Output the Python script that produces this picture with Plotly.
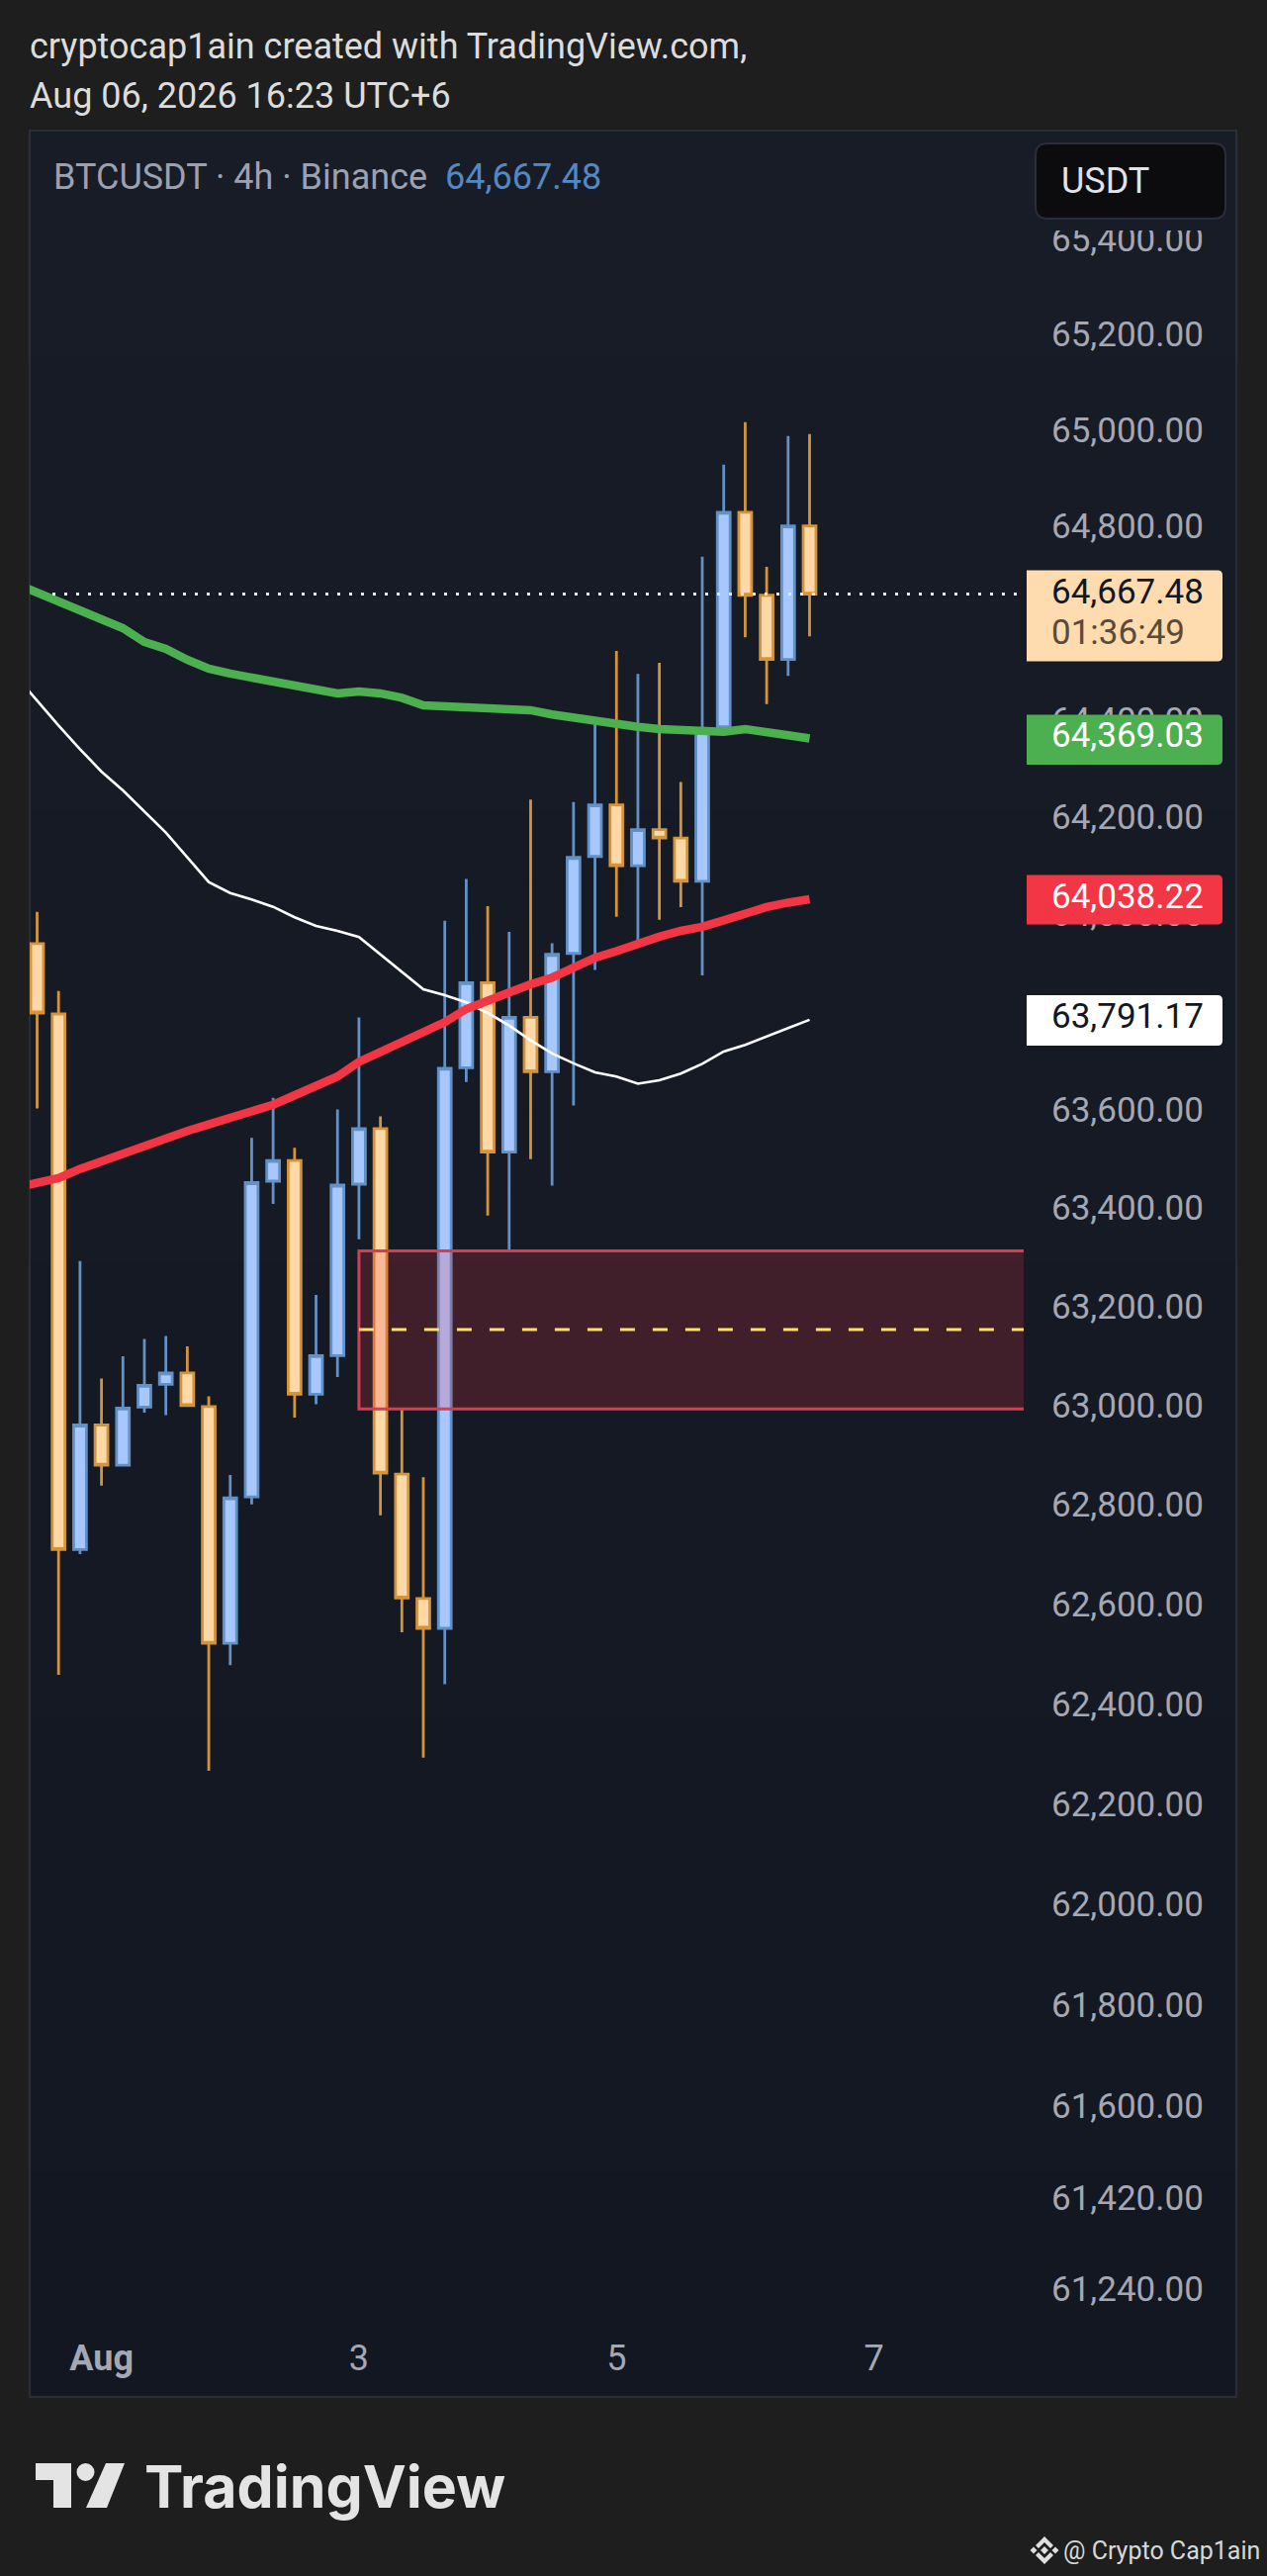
import pandas as pd
import plotly.graph_objects as go

W, H = 1281, 2604

# ---- data ----
first_bar = "2026-07-31 14:00"
opens = [63947, 63803, 62717, 62968, 62887, 63004, 63050, 63073, 63005, 62529, 62823, 63462, 63504,
         63030, 63108, 63456, 63569, 62869, 62619, 62559, 63693, 63867, 63521, 63796, 63685, 63927,
         64126, 64232, 64107, 64181, 64164, 64075, 64393, 64837, 64665, 64532, 64809]
closes = [63805, 62717, 62968, 62887, 63002, 63048, 63073, 63007, 62529, 62821, 63459, 63504, 63030,
          63108, 63454, 63569, 62871, 62620, 62559, 63692, 63867, 63521, 63796, 63685, 63925, 64124,
          64232, 64107, 64181, 64164, 64075, 64388, 64837, 64665, 64532, 64809, 64667.48]
highs = [64012, 63850, 63300, 63062, 63107, 63142, 63148, 63127, 63026, 62867, 63550, 63632, 63530,
         63231, 63608, 63796, 63594, 62999, 62863, 63994, 64080, 64024, 63971, 64243, 63948, 64238,
         64411, 64550, 64502, 64525, 64279, 64745, 64936, 65025, 64724, 64996, 65000]
lows = [63610, 62466, 62708, 62846, 62885, 62993, 62988, 63007, 62274, 62485, 62808, 63416, 62983,
        63010, 63065, 63344, 62786, 62551, 62300, 62447, 63664, 63392, 63322, 63507, 63453, 63616,
        63893, 64002, 63948, 63996, 64022, 63882, 64390, 64578, 64440, 64498, 64580]
ma_white = [64498.8, 64447.0, 64395.9, 64346.9, 64300.7, 64261.9, 64219.2, 64175.0, 64124.2, 64073.2,
            64050.9, 64037.5, 64022.5, 64001.0, 63983.4, 63973.2, 63960.5, 63924.6, 63888.8, 63853.7,
            63841.6, 63826.8, 63805.1, 63779.4, 63749.1, 63722.3, 63702.1, 63683.9, 63675.2, 63660.7,
            63667.8, 63681.3, 63701.3, 63726.3, 63739.8, 63756.2, 63774.1, 63791.17]
ma_red = [63448.7, 63460.1, 63468.2, 63486.9, 63502.4, 63520.6, 63537.2, 63550.7, 63564.2, 63577.5,
          63590.9, 63603.1, 63617.8, 63636.8, 63654.9, 63675.2, 63705.3, 63725.7, 63745.8, 63764.6,
          63786.3, 63813.2, 63830.0, 63850.3, 63863.9, 63877.5, 63898.1, 63917.9, 63931.5, 63947.7,
          63961.3, 63973.2, 63981.4, 63994.8, 64009.4, 64022.0, 64031.1, 64038.22]
ma_green = [64689.2, 64670.8, 64651.3, 64631.8, 64615.4, 64596.9, 64568.3, 64553.9, 64531.5, 64513.1,
            64502.9, 64494.7, 64482.4, 64474.3, 64466.1, 64462.0, 64466.1, 64462.0, 64452.8, 64437.4,
            64435.4, 64433.3, 64431.3, 64429.3, 64427.2, 64418.4, 64411.0, 64403.7, 64397.3, 64392.8,
            64388.3, 64385.5, 64382.8, 64382.8, 64388.3, 64383.6, 64375.5, 64369.03]
price_ticks = [65400, 65200, 65000, 64800, 64400, 64200, 64000, 63600, 63400, 63200,
               63000, 62800, 62600, 62400, 62200, 62000, 61800, 61600, 61420, 61240]
date_ticks = ["2026-08-01 02:00", "2026-08-03 02:00", "2026-08-05 02:00", "2026-08-07 02:00"]
date_labels = ["<b>Aug</b>", "3", "5", "7"]
zone_start = "2026-08-03 02:00"
zone_end = "2026-08-09 12:00"
zone_top, zone_mid, zone_bottom = 63320.4, 63161.0, 63000.4
countdown = "01:36:49"

bars = pd.date_range(first_bar, periods=len(opens), freq="4h")
ma_x = pd.date_range(pd.Timestamp(first_bar) - pd.Timedelta(hours=4), periods=len(ma_white), freq="4h")

FONT = "Roboto"
AXIS = "#a4a8b5"
FS = 35
HS = 36
px_x = lambda v: v / W
px_y = lambda v: 1 - v / H


def poly(points, close=True):
    s = "M " + " L ".join(f"{px_x(x)},{px_y(y)}" for x, y in points)
    return s + (" Z" if close else "")


def rrect(x0, y0, x1, y1, r_left, r_right):
    parts = [f"M {px_x(x0 + r_left)},{px_y(y0)}", f"L {px_x(x1 - r_right)},{px_y(y0)}",
             f"Q {px_x(x1)},{px_y(y0)} {px_x(x1)},{px_y(y0 + r_right)}",
             f"L {px_x(x1)},{px_y(y1 - r_right)}", f"Q {px_x(x1)},{px_y(y1)} {px_x(x1 - r_right)},{px_y(y1)}",
             f"L {px_x(x0 + r_left)},{px_y(y1)}", f"Q {px_x(x0)},{px_y(y1)} {px_x(x0)},{px_y(y1 - r_left)}",
             f"L {px_x(x0)},{px_y(y0 + r_left)}", f"Q {px_x(x0)},{px_y(y0)} {px_x(x0 + r_left)},{px_y(y0)}", "Z"]
    return " ".join(parts)


fig = go.Figure()
fig.add_trace(go.Candlestick(
    x=bars, open=opens, high=highs, low=lows, close=closes, whiskerwidth=0, hoverinfo="skip",
    increasing=dict(fillcolor="#a6c8ff", line=dict(color="#6391c6", width=2.8)),
    decreasing=dict(fillcolor="#ffd8a8", line=dict(color="#d3943a", width=2.8)),
))
fig.add_trace(go.Scatter(x=ma_x, y=ma_white, mode="lines", line=dict(color="#ffffff", width=2.6), hoverinfo="skip"))
fig.add_trace(go.Scatter(x=ma_x, y=ma_red, mode="lines", line=dict(color="#f23645", width=8.5), hoverinfo="skip"))
fig.add_trace(go.Scatter(x=ma_x, y=ma_green, mode="lines", line=dict(color="#4caf50", width=8.5), hoverinfo="skip"))

shapes = []
# frame with a faint vertical gradient
n_bands = 30
c0, c1 = (24, 28, 39), (19, 23, 34)
for i in range(n_bands):
    t = i / (n_bands - 1)
    col = "rgb(%d,%d,%d)" % tuple(round(a + (b - a) * t) for a, b in zip(c0, c1))
    shapes.append(dict(type="rect", xref="paper", yref="paper", layer="below", line_width=0, fillcolor=col,
                       x0=px_x(30), x1=px_x(1250),
                       y0=px_y(132 + 2291 * i / n_bands), y1=px_y(132 + 2291 * (i + 1) / n_bands + 1)))
shapes.append(dict(type="rect", xref="paper", yref="paper", layer="below", fillcolor="rgba(0,0,0,0)",
                   line=dict(color="#2a2e39", width=2), x0=px_x(30), x1=px_x(1250), y0=px_y(132), y1=px_y(2423)))
# zone
shapes.append(dict(type="rect", xref="x", yref="y", x0=zone_start, x1=zone_end, y0=zone_bottom, y1=zone_top,
                   fillcolor="rgba(242,54,69,0.2)", line=dict(color="#d83c50", width=3)))
shapes.append(dict(type="line", xref="x", yref="y", x0=zone_start, x1=zone_end, y0=zone_mid, y1=zone_mid,
                   line=dict(color="#ffe066", width=3, dash="15px,18px")))
# last-price line
shapes.append(dict(type="line", xref="paper", yref="y", x0=px_x(53), x1=px_x(1033), y0=closes[-1], y1=closes[-1],
                   line=dict(color="#e8e8e8", width=3, dash="3px,9px")))
# cover for the top of the price scale and the currency button
shapes.append(dict(type="rect", xref="paper", yref="paper", line_width=0, fillcolor="rgb(24,28,39)",
                   x0=px_x(1036), x1=px_x(1249), y0=px_y(133), y1=px_y(233)))
shapes.append(dict(type="path", xref="paper", yref="paper", path=rrect(1047, 145, 1239, 221, 12, 12),
                   fillcolor="#0c0c0e", line=dict(color="#2a2e39", width=2)))
# price tags
tags = [(576.5, 668.5, "#ffdbb0"), (722.5, 773, "#4caf50"), (884.5, 934.5, "#f23645"), (1006, 1057, "#ffffff")]
for y0, y1, col in tags:
    shapes.append(dict(type="path", xref="paper", yref="paper", path=rrect(1038, y0, 1236, y1, 0, 5),
                       fillcolor=col, line_width=0))
# TradingView mark
LOGO = "#e4e4e4"
shapes.append(dict(type="path", xref="paper", yref="paper", fillcolor=LOGO, line_width=0,
                   path=poly([(36, 2490), (72, 2490), (72, 2535), (54, 2535), (54, 2507), (36, 2507)])))
shapes.append(dict(type="path", xref="paper", yref="paper", fillcolor=LOGO, line_width=0,
                   path=poly([(107, 2490), (126, 2490), (108, 2535), (87, 2535)])))
shapes.append(dict(type="circle", xref="paper", yref="paper", fillcolor=LOGO, line_width=0,
                   x0=px_x(77.5), x1=px_x(95.5), y0=px_y(2490), y1=px_y(2508)))
# small diamond mark by the signature
MARK = "#e0e0e0"
for pts in ([(1056, 2564), (1065, 2573), (1062, 2576), (1056, 2570), (1050, 2576), (1047, 2573)],
            [(1056, 2592), (1065, 2583), (1062, 2580), (1056, 2586), (1050, 2580), (1047, 2583)],
            [(1045, 2574.5), (1048.5, 2578), (1045, 2581.5), (1041.5, 2578)],
            [(1067, 2574.5), (1070.5, 2578), (1067, 2581.5), (1063.5, 2578)],
            [(1056, 2574), (1060, 2578), (1056, 2582), (1052, 2578)]):
    shapes.append(dict(type="path", xref="paper", yref="paper", fillcolor=MARK, line_width=0, path=poly(pts)))


def note(x, y, text, size=FS, color=AXIS, family=FONT):
    return dict(xref="paper", yref="paper", x=px_x(x), y=px_y(y), text=text, showarrow=False, xanchor="left",
                yanchor="middle", align="left", font=dict(family=family, size=size, color=color), borderpad=0)


annotations = [
    note(29, 47, "cryptocap1ain created with TradingView.com,", HS, "#dcdcdc"),
    note(29, 97, "Aug 06, 2026 16:23 UTC+6", HS, "#dcdcdc"),
    note(53, 179, "BTCUSDT · 4h · Binance", HS, "#9ca1af"),
    note(449, 179, f"{closes[-1]:,.2f}", HS, "#5588c0"),
    note(1072, 183, "USDT", HS, "#e0e3eb"),
    note(1062, 598, f"{closes[-1]:,.2f}", FS, "#131722"),
    note(1062, 640, countdown, FS, "#5c4a36"),
    note(1062, 743.8, f"{ma_green[-1]:,.2f}", FS, "#ffffff"),
    note(1062, 906.7, f"{ma_red[-1]:,.2f}", FS, "#ffffff"),
    note(1062, 1027, f"{ma_white[-1]:,.2f}", FS, "#131722"),
    note(145, 2513, "<b>TradingView</b>", 59, LOGO, "Inter"),
    note(1074, 2578, "@ Crypto Cap1ain", 25, "#d8d8d8"),
]

fig.update_layout(
    width=W, height=H, autosize=False, showlegend=False, hovermode=False,
    margin=dict(l=0, r=0, t=0, b=0), paper_bgcolor="#1e1e1e", plot_bgcolor="rgba(0,0,0,0)",
    boxgap=0.15, shapes=shapes, annotations=annotations, font=dict(family=FONT),
    xaxis=dict(domain=[30 / W, 1035 / W], type="date", range=["2026-07-31 12:37", "2026-08-08 05:55"],
               rangeslider=dict(visible=False), showgrid=False, zeroline=False, showline=False,
               tickmode="array", tickvals=date_ticks, ticktext=date_labels, ticks="",
               ticklabelstandoff=9, tickfont=dict(family=FONT, size=FS + 1, color=AXIS)),
    yaxis=dict(domain=[1 - 2350 / H, 1 - 133 / H], type="log", side="right", range=[4.786596, 4.817124],
               showgrid=False, zeroline=False, showline=False, tickmode="array", tickvals=price_ticks,
               ticktext=[f"{v:,.2f}" for v in price_ticks], ticks="", ticklabelstandoff=27, ticklabelshift=-4,
               tickfont=dict(family=FONT, size=FS, color=AXIS)),
)
fig.write_html("out.html", config=dict(displayModeBar=False),
               post_script="document.body.style.margin='0';document.body.style.background='#1e1e1e';")
